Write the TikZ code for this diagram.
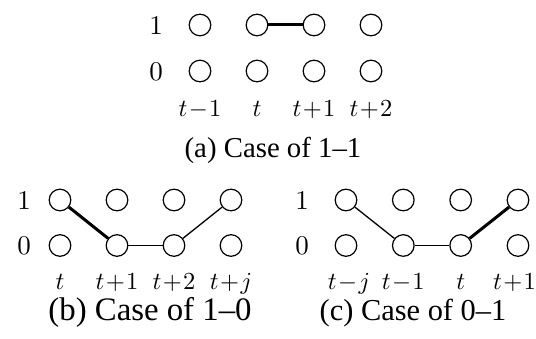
\documentclass[tikz,border=0pt]{standalone}
\usepackage{graphicx}
\usepackage{fontspec}
\newfontfamily\capfont{Liberation Serif}
\newcommand\lbl[1]{\scalebox{2.45}{\medmuskip=1mu$#1$}}
\newcommand\rlbl[1]{\scalebox{2.7}{$#1$}}
\begin{document}
\begin{tikzpicture}[x=1pt,y=-1pt,
  st/.style={circle,draw,line width=1.2pt,minimum size=21.6pt,inner sep=0pt},
  rowlbl/.style={anchor=base,inner sep=0pt},
  collbl/.style={anchor=base,inner sep=0pt},
  captext/.style={anchor=base,inner sep=0pt},
  thick edge/.style={line width=3pt},
  thin edge/.style={line width=1.3pt}]
\useasboundingbox (0,0) rectangle (536,339);
% (a)
\foreach \i/\x in {0/200,1/257,2/314,3/371} {
  \node[st] (a1\i) at (\x,25) {};
  \node[st] (a0\i) at (\x,71) {};
}
\node[rowlbl] (ar1) at (156,34.5) {\rlbl{1}};
\node[rowlbl] (ar0) at (156,80.5) {\rlbl{0}};
\node[collbl] (al0) at (200,117) {\lbl{t-1}};
\node[collbl] (al1) at (257,117) {\lbl{t}};
\node[collbl] (al2) at (314,117) {\lbl{t+1}};
\node[collbl] (al3) at (371,117) {\lbl{t+2}};
\node[captext,font=\capfont\fontsize{28.8}{32}\selectfont] (acap) at (273,158) {(a) Case of 1\textendash 1};
\draw[thick edge] (a11) -- (a12);
% (b)
\foreach \i/\x in {0/60,1/117,2/174,3/231} {
  \node[st] (b1\i) at (\x,200) {};
  \node[st] (b0\i) at (\x,245.5) {};
}
\node[rowlbl] (br1) at (24,209.5) {\rlbl{1}};
\node[rowlbl] (br0) at (24,255) {\rlbl{0}};
\node[collbl] (bl0) at (60,290) {\lbl{t}};
\node[collbl] (bl1) at (117,290) {\lbl{t+1}};
\node[collbl] (bl2) at (174,290) {\lbl{t+2}};
\node[collbl] (bl3) at (231,290) {\lbl{t+j}};
\node[captext,font=\capfont\fontsize{32.8}{36}\selectfont] (bcap) at (150,320) {(b) Case of 1\textendash 0};
\draw[thick edge] (b10) -- (b01);
\draw[thin edge] (b01) -- (b02);
\draw[thin edge] (b02) -- (b13);
% (c)
\foreach \i/\x in {0/346,1/403.3,2/460.7,3/518} {
  \node[st] (c1\i) at (\x,200) {};
  \node[st] (c0\i) at (\x,245.5) {};
}
\node[rowlbl] (cr1) at (302,209.5) {\rlbl{1}};
\node[rowlbl] (cr0) at (302,255) {\rlbl{0}};
\node[collbl] (cl0) at (349,290) {\lbl{t-j}};
\node[collbl] (cl1) at (403.3,290) {\lbl{t-1}};
\node[collbl] (cl2) at (460.7,290) {\lbl{t}};
\node[collbl] (cl3) at (514.5,290) {\lbl{t+1}};
\node[captext,font=\capfont\fontsize{30.4}{34}\selectfont] (ccap) at (413,320) {(c) Case of 0\textendash 1};
\draw[thin edge] (c10) -- (c01);
\draw[thin edge] (c01) -- (c02);
\draw[thick edge] (c02) -- (c13);
\end{tikzpicture}
\end{document}
